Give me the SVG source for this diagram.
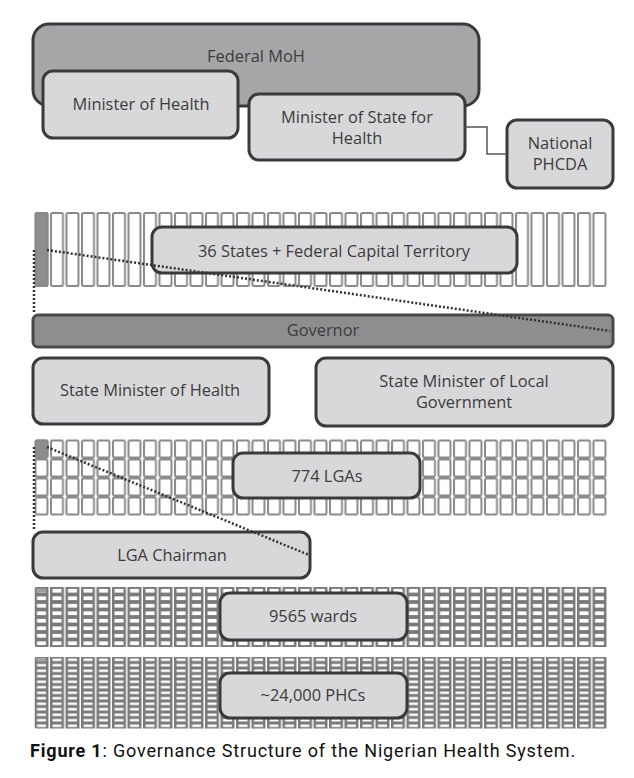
<svg xmlns="http://www.w3.org/2000/svg" width="634" height="778" viewBox="0 0 634 778">
<style>
.box{stroke:#3a3a3a;stroke-width:3}
.light{fill:#d8d8da}
.mid{fill:#a6a6a8}
.dark{fill:#8e8e90}
.lbl{font-family:"Open Sans","Liberation Sans",sans-serif;font-size:16.4px;fill:#3c3c3c;text-anchor:middle}
.dot{fill:none;stroke:#333;stroke-width:2.5;stroke-dasharray:2 2}
.line{fill:none;stroke:#555;stroke-width:1.5}
.cap{font-family:Roboto,"Liberation Sans",sans-serif;font-size:18px;letter-spacing:0.82px;fill:#111}
</style>
<defs>
<pattern id="pState" patternUnits="userSpaceOnUse" x="34.5" y="212" width="15.5" height="75">
<rect x="1" y="1" width="12" height="73" rx="1.5" fill="#fff" stroke="#8a8a8a" stroke-width="2"/>
</pattern>
<pattern id="pLga" patternUnits="userSpaceOnUse" x="34.5" y="439.5" width="15.5" height="19">
<rect x="1" y="1" width="12" height="17" rx="1.5" fill="#fff" stroke="#8a8a8a" stroke-width="2"/>
</pattern>
<pattern id="pWard" patternUnits="userSpaceOnUse" x="34.5" y="587" width="15.5" height="7.5">
<rect x="0" y="0" width="14" height="7.5" fill="#7a7a7a"/>
<rect x="2.5" y="1.9" width="9" height="3.7" fill="#fff"/>
</pattern>
<pattern id="pPhc" patternUnits="userSpaceOnUse" x="34.5" y="657" width="15.5" height="5.5">
<rect x="0" y="0" width="14" height="5.5" fill="#7a7a7a"/>
<rect x="2.5" y="1.5" width="9" height="2.5" fill="#fff"/>
</pattern>
</defs>
<rect width="634" height="778" fill="#fff"/>

<g id="grids">
<rect x="34.5" y="212" width="573" height="75" fill="url(#pState)"/>
<rect x="35.5" y="213" width="12" height="73" rx="1.5" fill="#8d8d8d" stroke="#8a8a8a" stroke-width="2"/>
<rect x="34.5" y="439.5" width="573" height="76" fill="url(#pLga)"/>
<rect x="35.5" y="440.5" width="12" height="17" rx="1.5" fill="#8d8d8d" stroke="#8a8a8a" stroke-width="2"/>
<rect x="34.5" y="587" width="573" height="60" rx="2" fill="url(#pWard)"/>
<rect x="37" y="588.9" width="9" height="3.7" fill="#a0a0a0"/>
<rect x="34.5" y="657" width="573" height="71.5" rx="2" fill="url(#pPhc)"/>
<rect x="37" y="658.5" width="9" height="2.5" fill="#a0a0a0"/>
</g>

<g id="federal-moh">
<rect class="box mid" x="33" y="24" width="446" height="82" rx="16"/>
<text class="lbl" x="256" y="62">Federal MoH</text>
</g>
<g id="minister-of-health">
<rect class="box light" x="43" y="71" width="195" height="67" rx="10"/>
<text class="lbl" x="141" y="110">Minister of Health</text>
</g>
<g id="minister-of-state">
<rect class="box light" x="249" y="94" width="216" height="66" rx="10"/>
<text class="lbl" x="357" y="123">Minister of State for</text>
<text class="lbl" x="357" y="144">Health</text>
</g>
<g id="national-phcda">
<rect class="box light" x="507" y="120" width="106" height="68" rx="10"/>
<text class="lbl" x="560" y="149">National</text>
<text class="lbl" x="560" y="170">PHCDA</text>
</g>
<g id="states">
<rect class="box light" x="152" y="227" width="365" height="46" rx="10"/>
<text class="lbl" x="334" y="257">36 States + Federal Capital Territory</text>
</g>
<g id="governor">
<rect class="dark" x="33" y="315" width="580" height="32" rx="5" stroke="#4a4a4a" stroke-width="3"/>
<text class="lbl" x="323" y="336">Governor</text>
</g>
<g id="state-moh">
<rect class="box light" x="33" y="358" width="236" height="66" rx="10"/>
<text class="lbl" x="150" y="396">State Minister of Health</text>
</g>
<g id="state-molg">
<rect class="box light" x="316" y="358" width="297" height="68" rx="10"/>
<text class="lbl" x="464" y="387">State Minister of Local</text>
<text class="lbl" x="464" y="408">Government</text>
</g>
<g id="lgas">
<rect class="box light" x="233" y="453" width="187" height="45" rx="10"/>
<text class="lbl" x="327" y="482">774 LGAs</text>
</g>
<g id="lga-chairman">
<rect class="box light" x="33" y="532" width="277" height="46" rx="10"/>
<text class="lbl" x="172" y="561">LGA Chairman</text>
</g>
<g id="wards">
<rect class="box light" x="220" y="593" width="187" height="47" rx="10"/>
<text class="lbl" x="313" y="622">9565 wards</text>
</g>
<g id="phcs">
<rect class="box light" x="220" y="673" width="187" height="45" rx="10"/>
<text class="lbl" x="313" y="701">~24,000 PHCs</text>
</g>

<g id="connectors">
<polyline class="line" points="465,127 487,127 487,154 507,154"/>
<line class="dot" x1="47" y1="250" x2="610" y2="331"/>
<line class="dot" x1="34" y1="250" x2="34" y2="314"/>
<line class="dot" x1="47" y1="447" x2="309" y2="555"/>
<line class="dot" x1="34" y1="447" x2="34" y2="531"/>
</g>

<text class="cap" x="30" y="757"><tspan font-weight="bold">Figure 1</tspan>: Governance Structure of the Nigerian Health System.</text>
</svg>
